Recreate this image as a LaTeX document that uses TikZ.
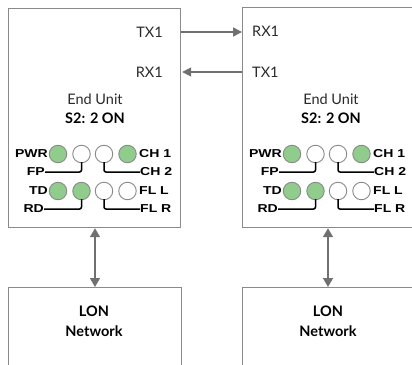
\documentclass[tikz,border=0pt]{standalone}
\usepackage{fontspec}
\setmainfont{Lato}
\newfontfamily\ledfont[FakeStretch=1.22]{Liberation Sans}
\usetikzlibrary{arrows.meta}
\definecolor{boxgray}{HTML}{8A8A8A}
\definecolor{arrgray}{HTML}{707070}
\definecolor{ledgreen}{HTML}{90CC8C}
\definecolor{txt}{HTML}{2A2A2A}
\begin{document}
\begin{tikzpicture}[x=1pt,y=-1pt,
  unitbox/.style={draw=boxgray,line width=1.2pt,fill=white,anchor=north west,inner sep=0pt},
  arr/.style={draw=arrgray,line width=1.5pt,-{Triangle[length=9pt,width=9pt]}},
  darr/.style={draw=arrgray,line width=1.5pt,{Triangle[length=9pt,width=10pt]}-{Triangle[length=9pt,width=10pt]}},
  port/.style={font=\fontsize{14.5}{16}\selectfont,text=txt,inner sep=0pt},
  title/.style={font=\fontsize{14.5}{16}\selectfont,text=txt,inner sep=0pt},
  titleb/.style={font=\fontsize{14.5}{16}\selectfont\bfseries,text=black,inner sep=0pt},
  lon/.style={font=\fontsize{14.5}{16}\selectfont\bfseries,text=black,inner sep=0pt},
  ledon/.style={circle,draw=boxgray,line width=0.9pt,fill=ledgreen,minimum size=17.5pt,inner sep=0pt},
  ledoff/.style={circle,draw=boxgray,line width=0.9pt,fill=white,minimum size=17.5pt,inner sep=0pt},
  ledl/.style={font=\ledfont\bfseries\fontsize{11.5}{12}\selectfont,text=black,inner sep=0pt},
  wire/.style={draw=black,line width=1.5pt,rounded corners=2pt}
]
\useasboundingbox (0,0) rectangle (412,364);
\clip (0,0) rectangle (412,364);

% unit boxes
\node[unitbox,minimum width=172pt,minimum height=219pt] (u1) at (8,8) {};
\node[unitbox,minimum width=200pt,minimum height=220pt] (u2) at (242,7) {};
% LON boxes
\node[unitbox,minimum width=173pt,minimum height=100pt] (n1) at (8,287) {};
\node[unitbox,minimum width=200pt,minimum height=100pt] (n2) at (242,287) {};

% port labels
\node[port,anchor=east] (tx1l) at (163,32) {TX1};
\node[port,anchor=east] (rx1l) at (163,72) {RX1};
\node[port,anchor=west] (rx1r) at (252,31) {RX1};
\node[port,anchor=west] (tx1r) at (252,72) {TX1};

\draw[arr] (u1.east |- tx1l) -- (u2.west |- tx1l);
\draw[arr] (u2.west |- tx1r) -- ([xshift=1pt]u1.east |- tx1r);

% titles
\node[title] (t1) at (95,99) {End Unit};
\node[titleb] (s1) at (95,118) {S2: 2 ON};
\node[title] (t2) at (331,99) {End Unit};
\node[titleb] (s2) at (331,118) {S2: 2 ON};

% LON texts
\node[lon] (l1) at (94,311) {LON};
\node[lon] (w1) at (94,331) {Network};
\node[lon] (l2) at (328,311) {LON};
\node[lon] (w2) at (328,331) {Network};

\draw[darr] (u1.south -| 95,0) -- (n1.north -| 95,0);
\draw[darr] (u2.south -| 328,0) -- (n2.north -| 328,0);

% LED panels
\foreach \p/\dx in {a/0,b/234}{
  \begin{scope}[xshift=\dx]
  \node[ledon]  (\p11) at (58,154) {};
  \node[ledoff] (\p12) at (81.5,154) {};
  \node[ledoff] (\p13) at (104,154) {};
  \node[ledon]  (\p14) at (127.5,154) {};
  \node[ledon]  (\p21) at (58,191) {};
  \node[ledon]  (\p22) at (81.5,191) {};
  \node[ledoff] (\p23) at (104,191) {};
  \node[ledoff] (\p24) at (127.5,191) {};
  \node[ledl,anchor=east] (\p pwr) at (48,154) {PWR};
  \node[ledl,anchor=east] (\p fp) at (45,172) {FP};
  \node[ledl,anchor=east] (\p td) at (48,191) {TD};
  \node[ledl,anchor=east] (\p rd) at (44,209) {RD};
  \node[ledl,anchor=west] (\p ch1) at (139,154) {CH 1};
  \node[ledl,anchor=west] (\p ch2) at (140,172) {CH 2};
  \node[ledl,anchor=west] (\p fll) at (139,191) {FL L};
  \node[ledl,anchor=west] (\p flr) at (140,209) {FL R};
  \draw[wire] (\p fp.east) -- (\p fp.east -| \p12.south) -- ([yshift=1pt]\p12.south);
  \draw[wire] (\p ch2.west) -- (\p ch2.west -| \p13.south) -- ([yshift=1pt]\p13.south);
  \draw[wire] (\p rd.east) -- (\p rd.east -| \p22.south) -- ([yshift=1pt]\p22.south);
  \draw[wire] (\p flr.west) -- (\p flr.west -| \p23.south) -- ([yshift=1pt]\p23.south);
  \end{scope}
}
\end{tikzpicture}
\end{document}
